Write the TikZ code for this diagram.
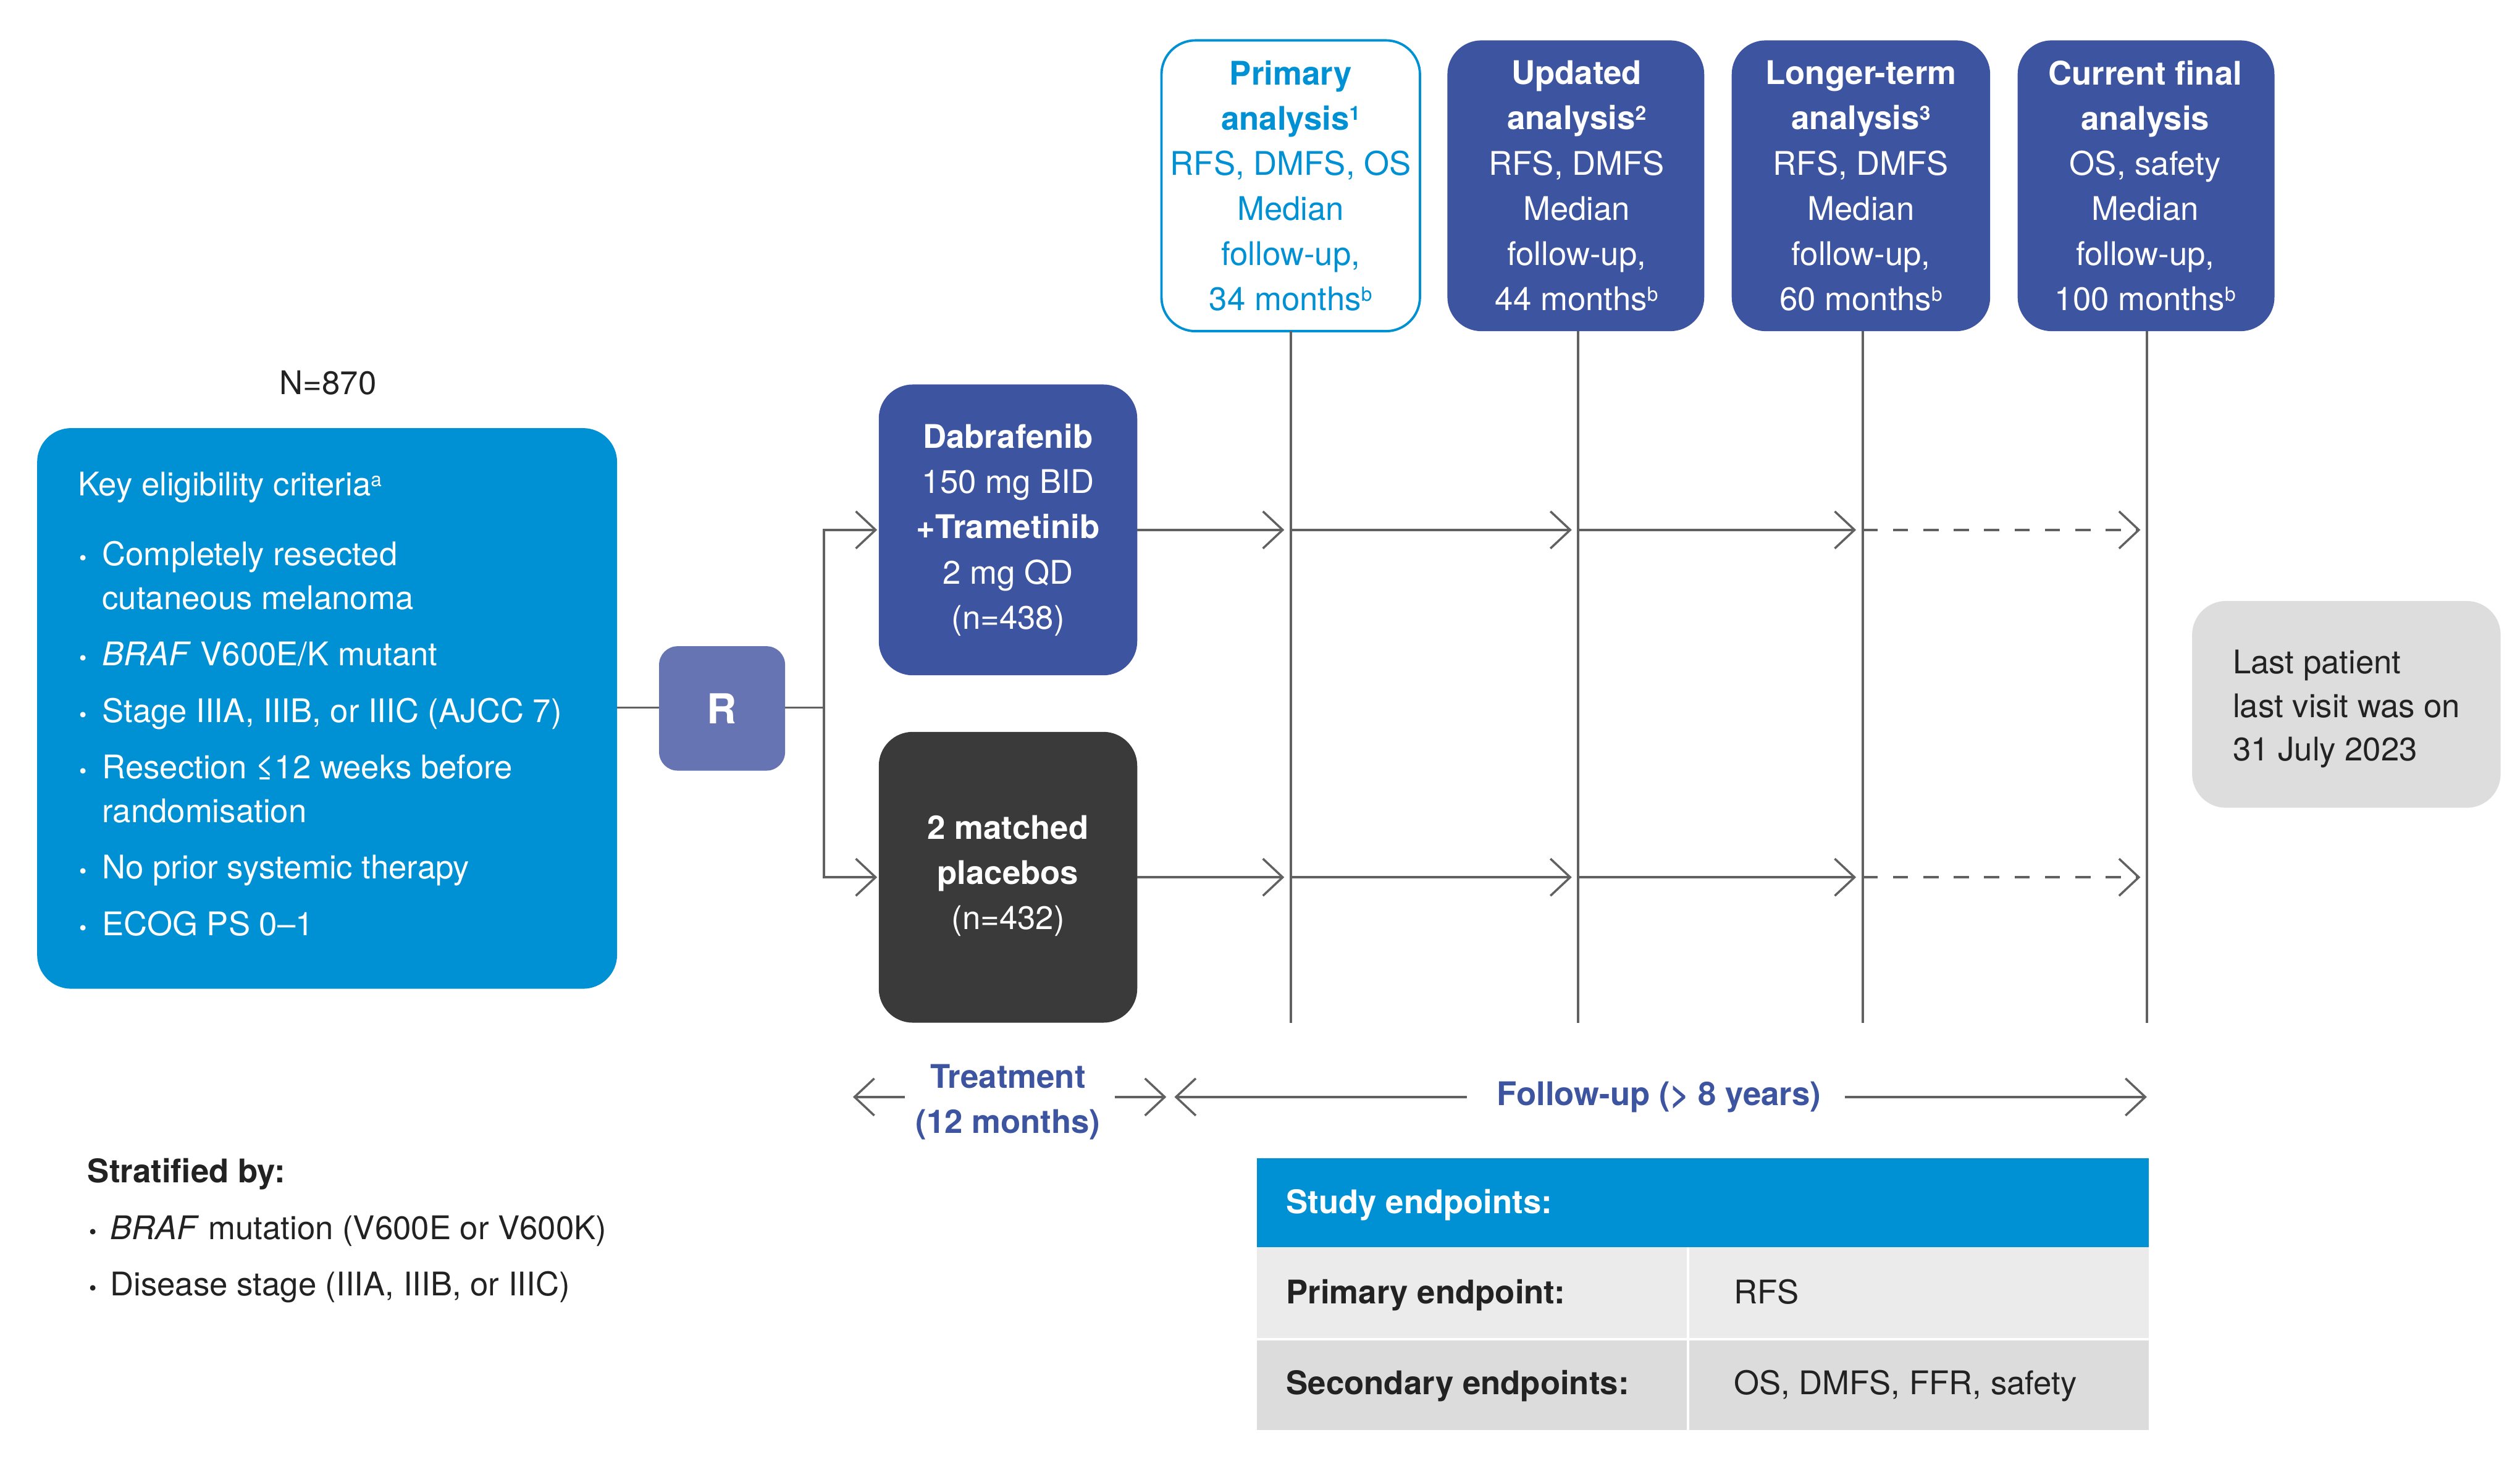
\documentclass[tikz,border=0pt]{standalone}
\usepackage{fontspec}
\setmainfont{TeX Gyre Heros}
\usetikzlibrary{arrows.meta}
\definecolor{cy}{HTML}{0090D4}
\definecolor{db}{HTML}{3D55A0}
\definecolor{rb}{HTML}{6674B4}
\definecolor{dk}{HTML}{3A3A3A}
\definecolor{lg}{HTML}{DDDDDD}
\definecolor{r1}{HTML}{EBEBEB}
\definecolor{r2}{HTML}{DCDCDC}
\definecolor{tx}{HTML}{222222}
\newcommand{\sps}[1]{\raisebox{0.55ex}{\fontsize{9}{9}\selectfont #1}}
\newcommand{\bul}{{\fontsize{10}{10}\selectfont\textbullet}}
\begin{document}
\begin{tikzpicture}[x=0.026154cm,y=-0.026154cm,
  every node/.style={font=\fontsize{15}{20.8}\selectfont,inner sep=0pt,text=tx},
  box/.style={rounded corners=0.55cm,draw=none},
  ln/.style={anchor=base west},
  bf/.style={font=\fontsize{15}{20.8}\selectfont\bfseries},
  tip/.style={-{Straight Barb[length=0.32cm,width=0.6cm,line width=1pt]}},
  conn/.style={line width=1.1pt,draw=dk!80}]
\useasboundingbox (0,0) rectangle (1560,906);
% eligibility
\fill[box,cy] (23,265) rectangle (382,612);
\node[ln,text=white] (k) at (48,307) {Key eligibility criteria\sps{a}};
\foreach \t/\y [count=\i] in {{\bul}/350,{}/377,{\bul}/412,{\bul}/447,{\bul}/482,{}/509,{\bul}/544,{\bul}/579}
  \node[ln,text=white] (b\i) at (49,\y) {\t};
\node[ln,text=white] (e1) at (63,350) {Completely resected};
\node[ln,text=white] (e2) at (63,377) {cutaneous melanoma};
\node[ln,text=white] (e3) at (63,412) {\textit{BRAF} V600E/K mutant};
\node[ln,text=white] (e4) at (63,447) {Stage IIIA, IIIB, or IIIC (AJCC 7)};
\node[ln,text=white] (e5) at (63,482) {Resection ≤12 weeks before};
\node[ln,text=white] (e6) at (63,509) {randomisation};
\node[ln,text=white] (e7) at (63,544) {No prior systemic therapy};
\node[ln,text=white] (e8) at (63,579) {ECOG PS 0–1};
\node (n) at (203,237) {N=870};
% R
\fill[rounded corners=0.3cm,rb] (408,400) rectangle (486,477);
\node[text=white,font=\fontsize{19}{22}\selectfont\bfseries] (R) at (447,438.5) {R};
% arms
\fill[box,db] (544,238) rectangle (704,418);
\node[text=white,align=center] (dab) at (624,328) {\textbf{Dabrafenib}\\150 mg BID\\\textbf{+Trametinib}\\2 mg QD\\(n=438)};
\fill[box,dk] (544,453) rectangle (704,633);
\node[text=white,align=center] (pla) at (624,542) {\textbf{2 matched}\\\textbf{placebos}\\(n=432)};
\coordinate (rl) at (382,438);
\coordinate (rr) at (486,438);
\coordinate (sp) at (510,438);
\draw[conn] (rl) -- (408,438);
\draw[conn] (rr) -- (sp);
\draw[conn,tip] (sp) |- (543,328);
\draw[conn,tip] (sp) |- (543,543);
% top boxes
\draw[rounded corners=0.55cm,draw=cy,line width=1.1pt,fill=white] (719,25) rectangle (879,205);
\node[text=cy,align=center] (t1) at (799,115) {\textbf{Primary}\\\textbf{analysis\sps{1}}\\RFS, DMFS, OS\\Median\\follow-up,\\34 months\sps{b}};
\fill[box,db] (896,25) rectangle (1055,205);
\node[text=white,align=center] (t2) at (976,115) {\textbf{Updated}\\\textbf{analysis\sps{2}}\\RFS, DMFS\\Median\\follow-up,\\44 months\sps{b}};
\fill[box,db] (1072,25) rectangle (1232,205);
\node[text=white,align=center] (t3) at (1152,115) {\textbf{Longer-term}\\\textbf{analysis\sps{3}}\\RFS, DMFS\\Median\\follow-up,\\60 months\sps{b}};
\fill[box,db] (1249,25) rectangle (1408,205);
\node[text=white,align=center] (t4) at (1328,115) {\textbf{Current final}\\\textbf{analysis}\\OS, safety\\Median\\follow-up,\\100 months\sps{b}};
\foreach \x in {799,977,1153,1329} \draw[conn] (\x,205) -- (\x,633);
\foreach \y in {328,543}{
  \draw[conn,tip] (704,\y) -- (795,\y);
  \draw[conn,tip] (799,\y) -- (973,\y);
  \draw[conn,tip] (977,\y) -- (1149,\y);
  \draw[conn,tip,dash pattern=on 7pt off 7pt] (1153,\y) -- (1325,\y);
}
% last patient
\fill[rounded corners=0.55cm,lg] (1357,372) rectangle (1548,500);
\node[ln] (lp1) at (1382,417) {Last patient};
\node[ln] (lp2) at (1382,444) {last visit was on};
\node[ln] (lp3) at (1382,471) {31 July 2023};
% treatment / follow-up
\node[text=db,align=center,bf] (tr) at (624,682) {Treatment\\(12 months)};
\draw[conn,tip] (560,679) -- (528,679);
\draw[conn,tip] (690,679) -- (722,679);
\node[text=db,bf] (fu) at (1027,679) {Follow-up (> 8 years)};
\draw[conn,tip] (908,679) -- (727,679);
\draw[conn,tip] (1142,679) -- (1329,679);
% stratified
\node[ln,bf] (st) at (54,732) {Stratified by:};
\node[ln] (s0) at (55,767) {\bul};
\node[ln] (s1) at (68,767) {\textit{BRAF} mutation (V600E or V600K)};
\node[ln] (s2b) at (55,802) {\bul};
\node[ln] (s2) at (68,802) {Disease stage (IIIA, IIIB, or IIIC)};
% table
\fill[cy] (778,717) rectangle (1330,772);
\fill[r1] (778,772) rectangle (1330,829);
\fill[r2] (778,829) rectangle (1330,885);
\draw[white,line width=1.2pt] (1045,772) -- (1045,885);
\draw[white,line width=1.2pt] (778,829) -- (1330,829);
\node[ln,text=white,bf] (h) at (796,751) {Study endpoints:};
\node[ln,bf] (p1) at (796,807) {Primary endpoint:};
\node[ln] (p2) at (1073,807) {RFS};
\node[ln,bf] (q1) at (796,863) {Secondary endpoints:};
\node[ln] (q2) at (1073,863) {OS, DMFS, FFR, safety};
\end{tikzpicture}
\end{document}
